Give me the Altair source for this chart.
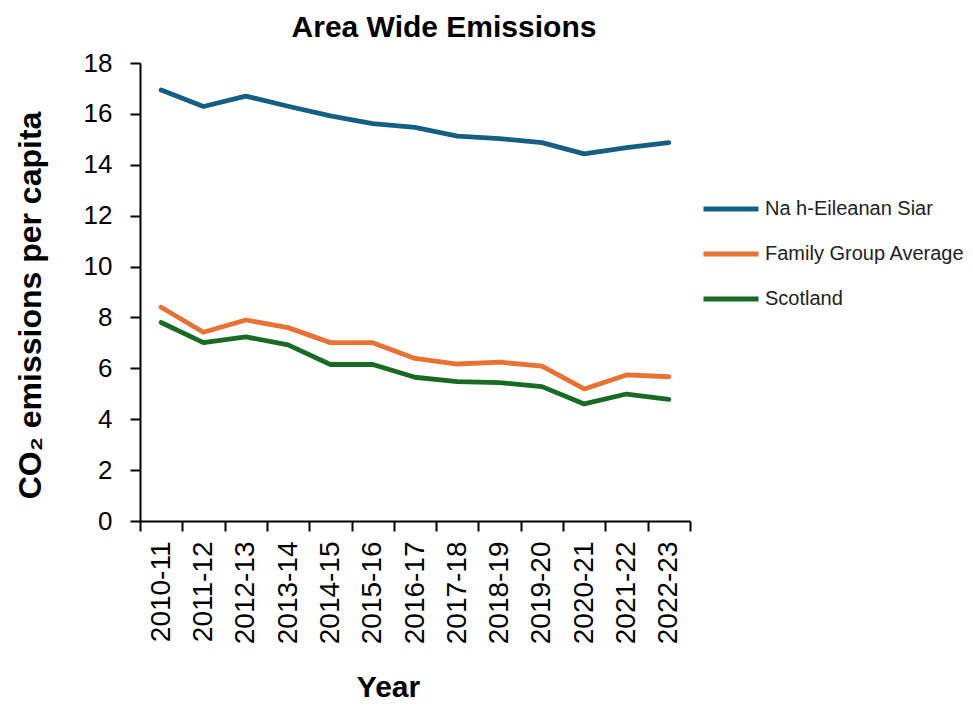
import altair as alt
import pandas as pd

years = ["2010-11", "2011-12", "2012-13", "2013-14", "2014-15", "2015-16", "2016-17",
         "2017-18", "2018-19", "2019-20", "2020-21", "2021-22", "2022-23"]
siar = [16.94, 16.29, 16.70, 16.30, 15.92, 15.62, 15.47, 15.13, 15.03, 14.87, 14.43, 14.67, 14.87]
family = [8.40, 7.42, 7.90, 7.60, 7.01, 7.01, 6.39, 6.17, 6.24, 6.09, 5.19, 5.74, 5.67]
scotland = [7.80, 7.01, 7.24, 6.92, 6.15, 6.15, 5.65, 5.48, 5.44, 5.28, 4.60, 4.99, 4.78]

series = ["Na h-Eileanan Siar", "Family Group Average", "Scotland"]
colors = ["#156082", "#E97132", "#196B24"]

rows = []
for name, vals in zip(series, [siar, family, scotland]):
    for y, v in zip(years, vals):
        rows.append({"Year": y, "Value": v, "Series": name})
df = pd.DataFrame(rows)

FONT = "Liberation Sans"

chart = alt.Chart(df).mark_line(strokeWidth=4.8, strokeCap="round", strokeJoin="round").encode(
    x=alt.X("Year:N", sort=years, title="Year",
            scale=alt.Scale(paddingInner=0, paddingOuter=0),
            axis=alt.Axis(labelAngle=-90, labelFontSize=28, labelFont=FONT, labelColor="black",
                          labelLimit=0,
                          titleFontSize=30, titleFont=FONT, titleFontWeight="bold", titleColor="black",
                          titleX=248, titleY=175, titleBaseline="alphabetic", titleAlign="center",
                          tickBand="extent", tickSize=10, tickColor="black",
                          domainColor="black", domainWidth=2, tickWidth=2, labelPadding=10)),
    y=alt.Y("Value:Q", title="CO₂ emissions per capita",
            scale=alt.Scale(domain=[0, 18], nice=False),
            axis=alt.Axis(values=list(range(0, 19, 2)), labelFontSize=26, labelFont=FONT, labelColor="black",
                          titleFontSize=32, titleFont=FONT, titleFontWeight="bold", titleColor="black",
                          titleX=-110, titleY=242, titleBaseline="middle", titleAlign="center",
                          titleAngle=270,
                          grid=False, tickSize=10, tickColor="black",
                          domainColor="black", domainWidth=2, tickWidth=2, labelPadding=18)),
    color=alt.Color("Series:N", sort=series,
                    scale=alt.Scale(domain=series, range=colors),
                    legend=alt.Legend(title=None, orient="none", legendX=561, legendY=116,
                                      symbolType="stroke", symbolStrokeWidth=4.8, symbolSize=3025,
                                      labelFontSize=20, labelFont=FONT, labelColor="#222222",
                                      labelLimit=0, rowPadding=5, labelOffset=4)),
).properties(
    width=550, height=458,
    title=alt.TitleParams("Area Wide Emissions", fontSize=30, font=FONT, fontWeight="bold",
                          color="black", anchor="middle", dx=29, offset=7),
    autosize=alt.AutoSizeParams(type="none"),
    padding={"left": 132, "top": 55, "right": 275, "bottom": 182},
).configure_view(stroke=None)

chart.save("out.html", embed_options={"renderer": "svg", "actions": False})
